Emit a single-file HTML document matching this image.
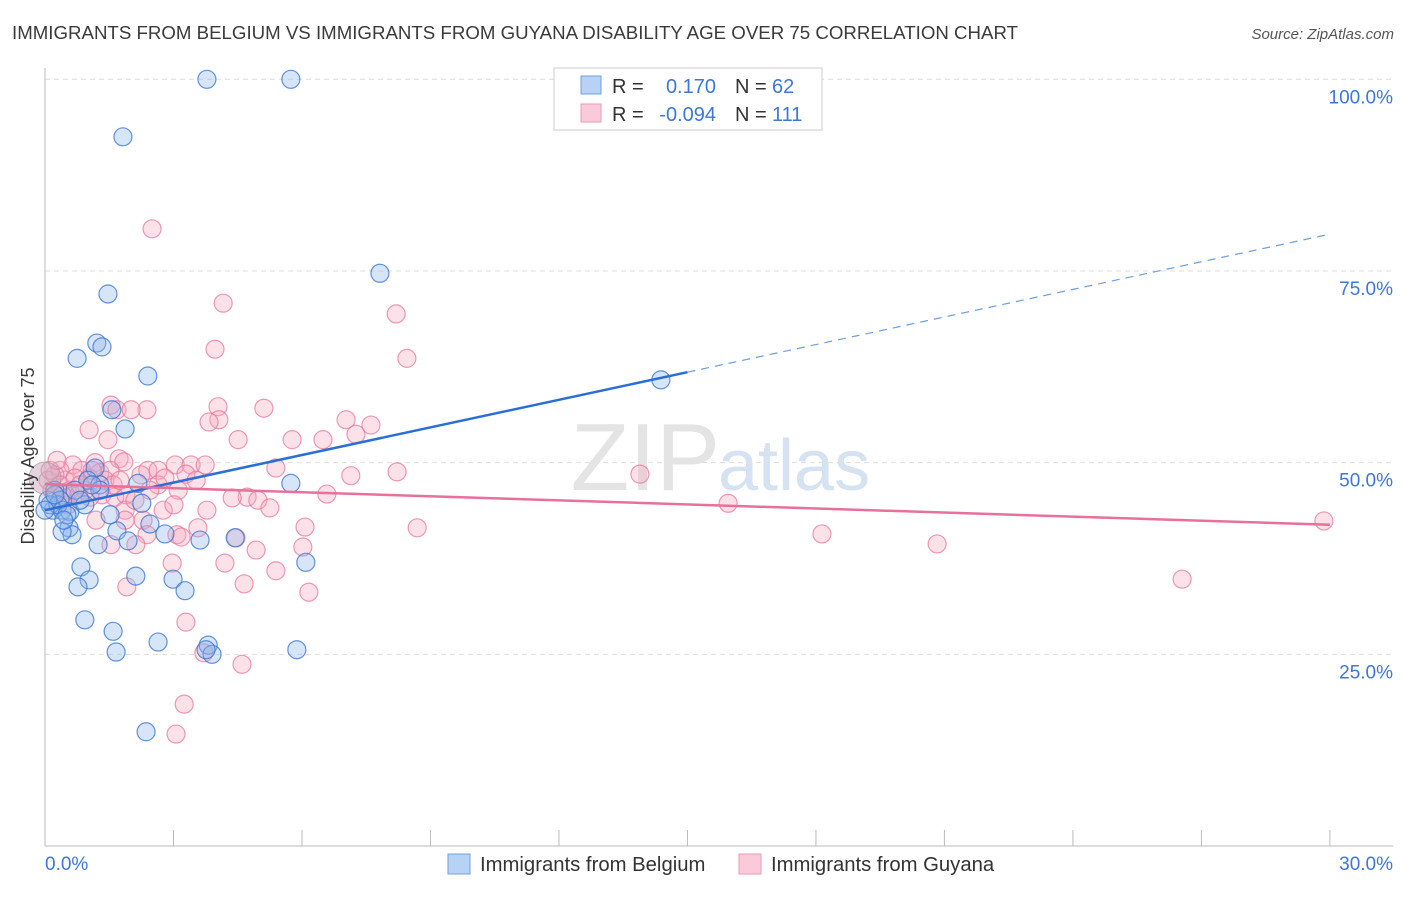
<!DOCTYPE html>
<html><head><meta charset="utf-8"><style>
body{margin:0;background:#fff;font-family:"Liberation Sans",sans-serif;}
svg text{font-family:"Liberation Sans",sans-serif;}
</style></head><body>
<svg width="1406" height="892" viewBox="0 0 1406 892">
<text x="12" y="39" font-size="18" fill="#3a3a3a" textLength="1006" lengthAdjust="spacingAndGlyphs">IMMIGRANTS FROM BELGIUM VS IMMIGRANTS FROM GUYANA DISABILITY AGE OVER 75 CORRELATION CHART</text>
<text x="1394" y="39" font-size="15" fill="#555" font-style="italic" text-anchor="end">Source: ZipAtlas.com</text>
<g id="grid"></g>
<text x="720" y="490" font-size="96" fill="#e4e4e4" text-anchor="end" font-family="Liberation Serif">ZIP</text>
<text x="718" y="490" font-size="72" fill="#d4e2f2">atlas</text>
<g id="pts"></g>
<g id="lines"></g>
<text transform="translate(34,456) rotate(-90)" font-size="18" fill="#3a3a3a" text-anchor="middle">Disability Age Over 75</text>
<text x="45" y="870" font-size="19" fill="#3b78d8">0.0%</text>
<text x="1393" y="870" font-size="19" fill="#3b78d8" text-anchor="end">30.0%</text>
<g>
<rect x="554" y="68" width="268" height="62" fill="#fff" stroke="#ccc"/>
<rect x="581" y="76" width="20" height="18" fill="#b7d2f5" stroke="#6fa0e0"/>
<rect x="581" y="104" width="20" height="18" fill="#fbcad8" stroke="#ee9ab4"/>
<text x="612" y="93" font-size="20" fill="#333">R =</text>
<text x="716" y="93" font-size="20" fill="#3b78d8" text-anchor="end">0.170</text>
<text x="735" y="93" font-size="20" fill="#333">N =</text>
<text x="772" y="93" font-size="20" fill="#3b78d8">62</text>
<text x="612" y="121" font-size="20" fill="#333">R =</text>
<text x="716" y="121" font-size="20" fill="#3b78d8" text-anchor="end">-0.094</text>
<text x="735" y="121" font-size="20" fill="#333">N =</text>
<text x="772" y="121" font-size="20" fill="#3b78d8">111</text>
</g>
<g>
<rect x="448" y="854" width="22" height="20" fill="#b7d2f5" stroke="#6fa0e0"/>
<text x="480" y="871" font-size="20.3" fill="#333">Immigrants from Belgium</text></g>
<g>
<rect x="739" y="854" width="22" height="20" fill="#fbcad8" stroke="#ee9ab4"/>
<text x="771" y="871" font-size="20.3" fill="#333">Immigrants from Guyana</text></g>
</svg>
<script>
const yTicks=[25,50,75,100];
const xTickCount=10;
const bluePx=[[207,79],[291,79],[123,137],[108,294],[380,273],[661,380],[97,343],[102,347],[77,358],[148,376],[112,410],[125,429],[138,483],[95,468],[88,480],[100,485],[55,490],[60,500],[53,510],[62,510],[70,512],[85,505],[75,490],[150,524],[117,531],[69,528],[72,535],[62,532],[98,545],[128,541],[235,538],[142,503],[291,483],[306,562],[81,567],[136,576],[89,580],[173,579],[78,587],[185,591],[85,620],[113,631],[158,642],[208,645],[116,652],[212,654],[297,650],[206,650],[146,732],[50,505],[58,505],[48,500],[67,515],[100,490],[165,534],[55,495],[92,485],[200,540],[45,510],[64,520],[80,500],[110,515]];
const pinkPx=[[152,229],[223,303],[396,314],[215,349],[407,358],[111,405],[117,410],[147,410],[131,410],[218,407],[219,420],[209,422],[264,408],[346,420],[371,425],[356,434],[89,430],[108,440],[238,440],[292,440],[323,440],[119,459],[124,462],[148,470],[158,470],[175,465],[191,465],[205,465],[186,474],[141,475],[158,485],[178,490],[196,480],[276,468],[351,476],[397,472],[640,474],[73,465],[82,470],[95,463],[100,473],[110,470],[65,480],[70,490],[85,490],[60,470],[102,495],[115,497],[126,495],[150,490],[247,497],[258,500],[232,498],[270,508],[327,494],[125,510],[163,510],[174,505],[207,510],[728,503],[96,520],[125,520],[143,520],[147,535],[177,535],[181,537],[198,528],[236,538],[305,527],[417,528],[822,534],[937,544],[1324,521],[111,545],[136,545],[256,550],[303,547],[225,563],[172,563],[276,571],[1182,579],[127,587],[244,584],[309,592],[186,622],[204,653],[242,664],[184,704],[176,734],[48,480],[52,490],[55,475],[60,485],[66,498],[79,495],[89,478],[90,497],[105,480],[113,485],[50,470],[57,460],[75,478],[92,470],[68,505],[120,480],[135,500],[165,478],[62,495],[80,485]];
const blueX=bluePx.map(p=>+((p[0]-45)/42.83).toFixed(2));
const blueY=bluePx.map(p=>+((846-p[1])/7.667).toFixed(1));
const pinkX=pinkPx.map(p=>+((p[0]-45)/42.83).toFixed(2));
const pinkY=pinkPx.map(p=>+((846-p[1])/7.667).toFixed(1));
const blueTrend=[43.8,79.8];
const blueSolidEnd=15;
const pinkTrend=[47.2,41.9];

const sx=v=>45+v*42.83, sy=v=>846-v*7.667;
const NS='http://www.w3.org/2000/svg';
function mk(t,a,parent){const e=document.createElementNS(NS,t);for(const k in a)e.setAttribute(k,a[k]);parent.appendChild(e);return e;}
const grid=document.getElementById('grid');
yTicks.forEach(t=>{
 const l=mk('line',{x1:45,x2:1393,y1:sy(t),y2:sy(t),stroke:'#ddd','stroke-dasharray':'5,4'},grid);
 
 
 const tx=mk('text',{x:1393,y:sy(t)+24,'font-size':19,fill:'#3b78d8','text-anchor':'end'},grid);
 tx.textContent=t.toFixed(1)+'%';
 
 
});
mk('line',{x1:45,x2:45,y1:68,y2:846,stroke:'#bbb'},grid);
mk('line',{x1:45,x2:1393,y1:846,y2:846,stroke:'#bbb'},grid);
for(let i=0;i<=xTickCount;i++){const v=i*3;
 const l=mk('line',{x1:sx(v),x2:sx(v),y1:830,y2:846,stroke:'#bbb'},grid);
 
 }
const pts=document.getElementById('pts');
pinkX.forEach((x,i)=>{const c=mk('circle',{cx:sx(x),cy:sy(pinkY[i]),r:9,fill:'rgba(246,168,192,0.35)',stroke:'rgba(232,120,155,0.75)','stroke-width':1.2},pts);
 
 });
blueX.forEach((x,i)=>{const c=mk('circle',{cx:sx(x),cy:sy(blueY[i]),r:9,fill:'rgba(140,180,235,0.35)',stroke:'rgba(60,120,210,0.8)','stroke-width':1.2},pts);
 
 });
const big=mk('circle',{cx:45,cy:478,r:16,fill:'rgba(200,170,190,0.5)',stroke:'rgba(180,140,170,0.7)'},pts);


const lines=document.getElementById('lines');
const by=v=>blueTrend[0]+(blueTrend[1]-blueTrend[0])*v/30;
const b1=mk('line',{x1:sx(0),y1:sy(by(0)),x2:sx(blueSolidEnd),y2:sy(by(blueSolidEnd)),stroke:'#2a6fd6','stroke-width':2.5},lines);


const b2=mk('line',{x1:sx(blueSolidEnd),y1:sy(by(blueSolidEnd)),x2:sx(30),y2:sy(by(30)),stroke:'#6a9ee0','stroke-width':1.2,'stroke-dasharray':'8,6'},lines);


const p1=mk('line',{x1:sx(0),y1:sy(pinkTrend[0]),x2:sx(30),y2:sy(pinkTrend[1]),stroke:'#e8709a','stroke-width':2.5},lines);


</script>
</body></html>
